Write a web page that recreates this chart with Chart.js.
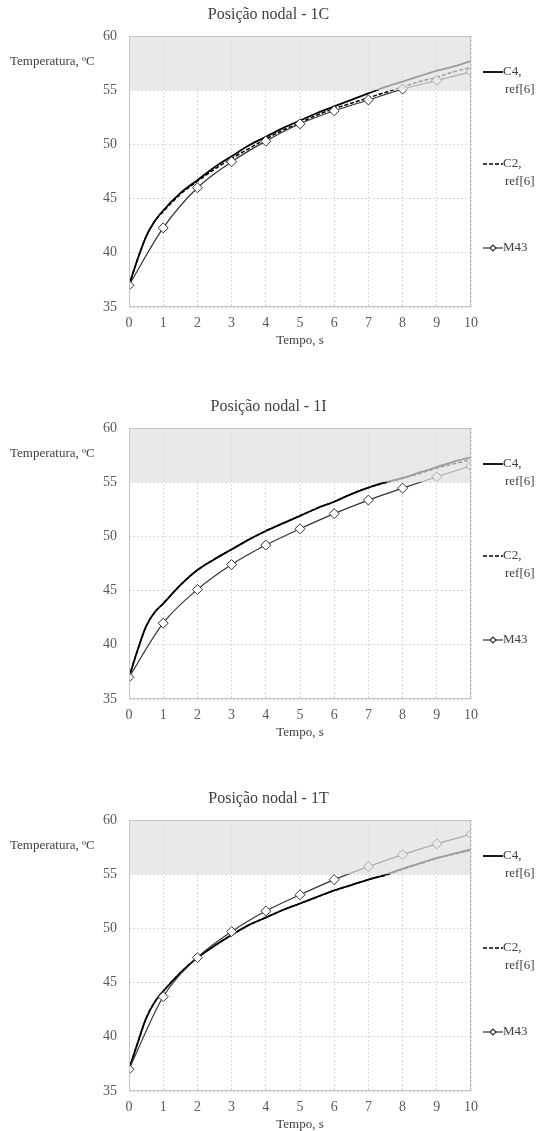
<!DOCTYPE html>
<html>
<head>
<meta charset="utf-8">
<script src="https://cdn.jsdelivr.net/npm/chart.js@4.4.1/dist/chart.umd.min.js"></script>
<style>
  html, body { margin: 0; padding: 0; background: #fff; overflow: hidden; }
  .box { position: absolute; left: 0; width: 537px; height: 350px; }
</style>
</head>
<body>
<div class="box" style="top:0"><canvas id="chart1C" width="537" height="350"></canvas></div>
<div class="box" style="top:392px"><canvas id="chart1I" width="537" height="350"></canvas></div>
<div class="box" style="top:784px"><canvas id="chart1T" width="537" height="350"></canvas></div>
<script>
// time axis of the reference curves (ref[6]) and of the M43 model
const refTimes = [0, 0.25, 0.5, 0.75, 1, 1.5, 2, 2.5, 3, 3.5, 4, 4.5, 5, 5.5, 6, 6.5, 7, 7.5, 8, 8.5, 9, 9.5, 10];
const m43Times = [0, 1, 2, 3, 4, 5, 6, 7, 8, 9, 10];
const xTicks = [0, 10, 1];      // min, max, step
const yTicks = [35, 60, 5];
const bandRange = [55, 60];

// Posição nodal - 1C
const c4_1C = [37, 39.4, 41.5, 42.9, 43.9, 45.5, 46.7, 47.9, 48.9, 49.9, 50.7, 51.5, 52.2, 52.9, 53.5, 54.1, 54.7, 55.3, 55.8, 56.3, 56.8, 57.2, 57.7];
const c2_1C = [37, 39.4, 41.5, 42.9, 43.8, 45.4, 46.6, 47.7, 48.7, 49.6, 50.5, 51.3, 52.0, 52.7, 53.3, 53.8, 54.3, 54.8, 55.3, 55.8, 56.2, 56.7, 57.1];
const m43_1C = [37, 42.3, 46.0, 48.4, 50.3, 51.9, 53.1, 54.1, 55.1, 55.9, 56.7];

// Posição nodal - 1I
const c4_1I = [37, 39.5, 41.7, 43.0, 43.8, 45.5, 46.9, 47.9, 48.8, 49.7, 50.5, 51.2, 51.9, 52.6, 53.2, 53.9, 54.5, 55.0, 55.4, 55.9, 56.4, 56.9, 57.3];
const c2_1I = [37, 39.5, 41.7, 43.0, 43.8, 45.5, 46.9, 47.9, 48.8, 49.7, 50.5, 51.2, 51.9, 52.6, 53.2, 53.9, 54.5, 54.95, 55.35, 55.8, 56.3, 56.7, 57.1];
const m43_1I = [37, 42.0, 45.1, 47.4, 49.2, 50.7, 52.1, 53.35, 54.45, 55.5, 56.5];

// Posição nodal - 1T
const c4_1T = [37, 39.4, 41.7, 43.2, 44.2, 45.9, 47.3, 48.4, 49.4, 50.3, 51.0, 51.7, 52.3, 52.9, 53.5, 54.0, 54.5, 54.95, 55.5, 56.0, 56.5, 56.9, 57.3];
const c2_1T = [37, 39.4, 41.7, 43.2, 44.2, 45.9, 47.3, 48.4, 49.4, 50.3, 51.0, 51.7, 52.3, 52.9, 53.5, 54.0, 54.5, 54.9, 55.45, 55.95, 56.45, 56.85, 57.2];
const m43_1T = [37, 43.7, 47.3, 49.7, 51.6, 53.1, 54.5, 55.7, 56.8, 57.8, 58.7];

const serif = "'Liberation Serif', 'Times New Roman', serif";
const textColor = "#404040";

function pts(xs, ys) {
  return xs.map((x, i) => ({ x: x, y: ys[i] }));
}

// shaded band over the lines, frame, y label and the legend
const decor = {
  id: "decor",
  afterDatasetsDraw(chart) {
    const { ctx, chartArea: a, scales } = chart;
    const top = scales.y.getPixelForValue(bandRange[1]);
    const bot = scales.y.getPixelForValue(bandRange[0]);
    ctx.save();
    ctx.fillStyle = "rgba(222, 223, 226, 0.7)";
    ctx.fillRect(a.left, top, a.right - a.left, bot - top);
    ctx.strokeStyle = "#c4c4c4";
    ctx.lineWidth = 1;
    ctx.strokeRect(a.left + 0.5, a.top + 0.5, a.right - a.left - 1, a.bottom - a.top - 1);
    ctx.restore();
  },
  afterDraw(chart) {
    const ctx = chart.ctx;
    ctx.save();
    ctx.fillStyle = textColor;
    ctx.font = "13px " + serif;
    ctx.textBaseline = "middle";
    ctx.textAlign = "left";
    ctx.fillText("Temperatura, ºC", 10, 62);

    // legend
    const lx = 483, tx = 503;
    ctx.strokeStyle = "#000";
    ctx.lineWidth = 1.8;
    ctx.beginPath(); ctx.moveTo(lx, 72); ctx.lineTo(tx, 72); ctx.stroke();
    ctx.fillText("C4,", tx, 72);
    ctx.fillText("ref[6]", tx + 2, 90);

    ctx.lineWidth = 1.5;
    ctx.setLineDash([4, 2]);
    ctx.beginPath(); ctx.moveTo(lx, 164); ctx.lineTo(tx, 164); ctx.stroke();
    ctx.setLineDash([]);
    ctx.fillText("C2,", tx, 164);
    ctx.fillText("ref[6]", tx + 2, 182);

    ctx.lineWidth = 1.2;
    ctx.strokeStyle = "#333";
    ctx.beginPath(); ctx.moveTo(lx, 248); ctx.lineTo(tx, 248); ctx.stroke();
    ctx.fillStyle = "#fff";
    ctx.beginPath();
    ctx.moveTo(493, 245); ctx.lineTo(496, 248); ctx.lineTo(493, 251); ctx.lineTo(490, 248); ctx.closePath();
    ctx.fill(); ctx.stroke();
    ctx.fillStyle = textColor;
    ctx.fillText("M43", tx, 248);
    ctx.restore();
  }
};

function makeChart(id, title, c4, c2, m43) {
  new Chart(document.getElementById(id), {
    type: "line",
    data: {
      datasets: [
        {
          label: "C4, ref[6]",
          data: pts(refTimes, c4),
          borderColor: "#000",
          borderWidth: 1.8,
          pointRadius: 0,
          cubicInterpolationMode: "monotone",
          order: 2,
        },
        {
          label: "C2, ref[6]",
          data: pts(refTimes, c2),
          borderColor: "#000",
          borderWidth: 1.5,
          borderDash: [4, 2],
          pointRadius: 0,
          cubicInterpolationMode: "monotone",
          order: 1,
        },
        {
          label: "M43",
          data: pts(m43Times, m43),
          borderColor: "#333",
          borderWidth: 1.2,
          pointStyle: "rectRot",
          pointRadius: 5,
          pointBorderWidth: 1,
          pointBackgroundColor: "#fff",
          pointBorderColor: "#333",
          cubicInterpolationMode: "monotone",
          order: 0,
        },
      ],
    },
    options: {
      responsive: false,
      animation: false,
      layout: { padding: 0 },
      plugins: {
        legend: { display: false },
        tooltip: { enabled: false },
        title: {
          display: true,
          text: title,
          color: textColor,
          font: { family: serif, size: 16, weight: "normal", lineHeight: 1.2 },
          padding: { top: 5, bottom: 11.8 },
        },
      },
      scales: {
        x: {
          type: "linear",
          min: xTicks[0],
          max: xTicks[1],
          ticks: { stepSize: xTicks[2], color: "#595959", padding: 8, font: { family: serif, size: 14 } },
          grid: { color: "#d9d9d9", drawTicks: false },
          border: { display: false, dash: [2, 2] },
          title: { display: true, text: "Tempo, s", color: textColor, padding: { top: 0, bottom: 2 }, font: { family: serif, size: 13 } },
          afterFit(s) { s.height = 43; },
        },
        y: {
          min: yTicks[0],
          max: yTicks[1],
          ticks: { stepSize: yTicks[2], color: "#595959", padding: 12, font: { family: serif, size: 14 } },
          grid: { color: "#d9d9d9", drawTicks: false },
          border: { display: false, dash: [2, 2] },
          afterFit(s) { s.width = 129; },
        },
        // empty right-hand axis that keeps room for the legend
        legendSpace: {
          position: "right",
          min: yTicks[0],
          max: yTicks[1],
          ticks: { display: false },
          grid: { display: false, drawTicks: false },
          border: { display: false },
          afterFit(s) { s.width = 66; },
        },
      },
    },
    plugins: [decor],
  });
}

makeChart("chart1C", "Posição nodal - 1C", c4_1C, c2_1C, m43_1C);
makeChart("chart1I", "Posição nodal - 1I", c4_1I, c2_1I, m43_1I);
makeChart("chart1T", "Posição nodal - 1T", c4_1T, c2_1T, m43_1T);
</script>
</body>
</html>
